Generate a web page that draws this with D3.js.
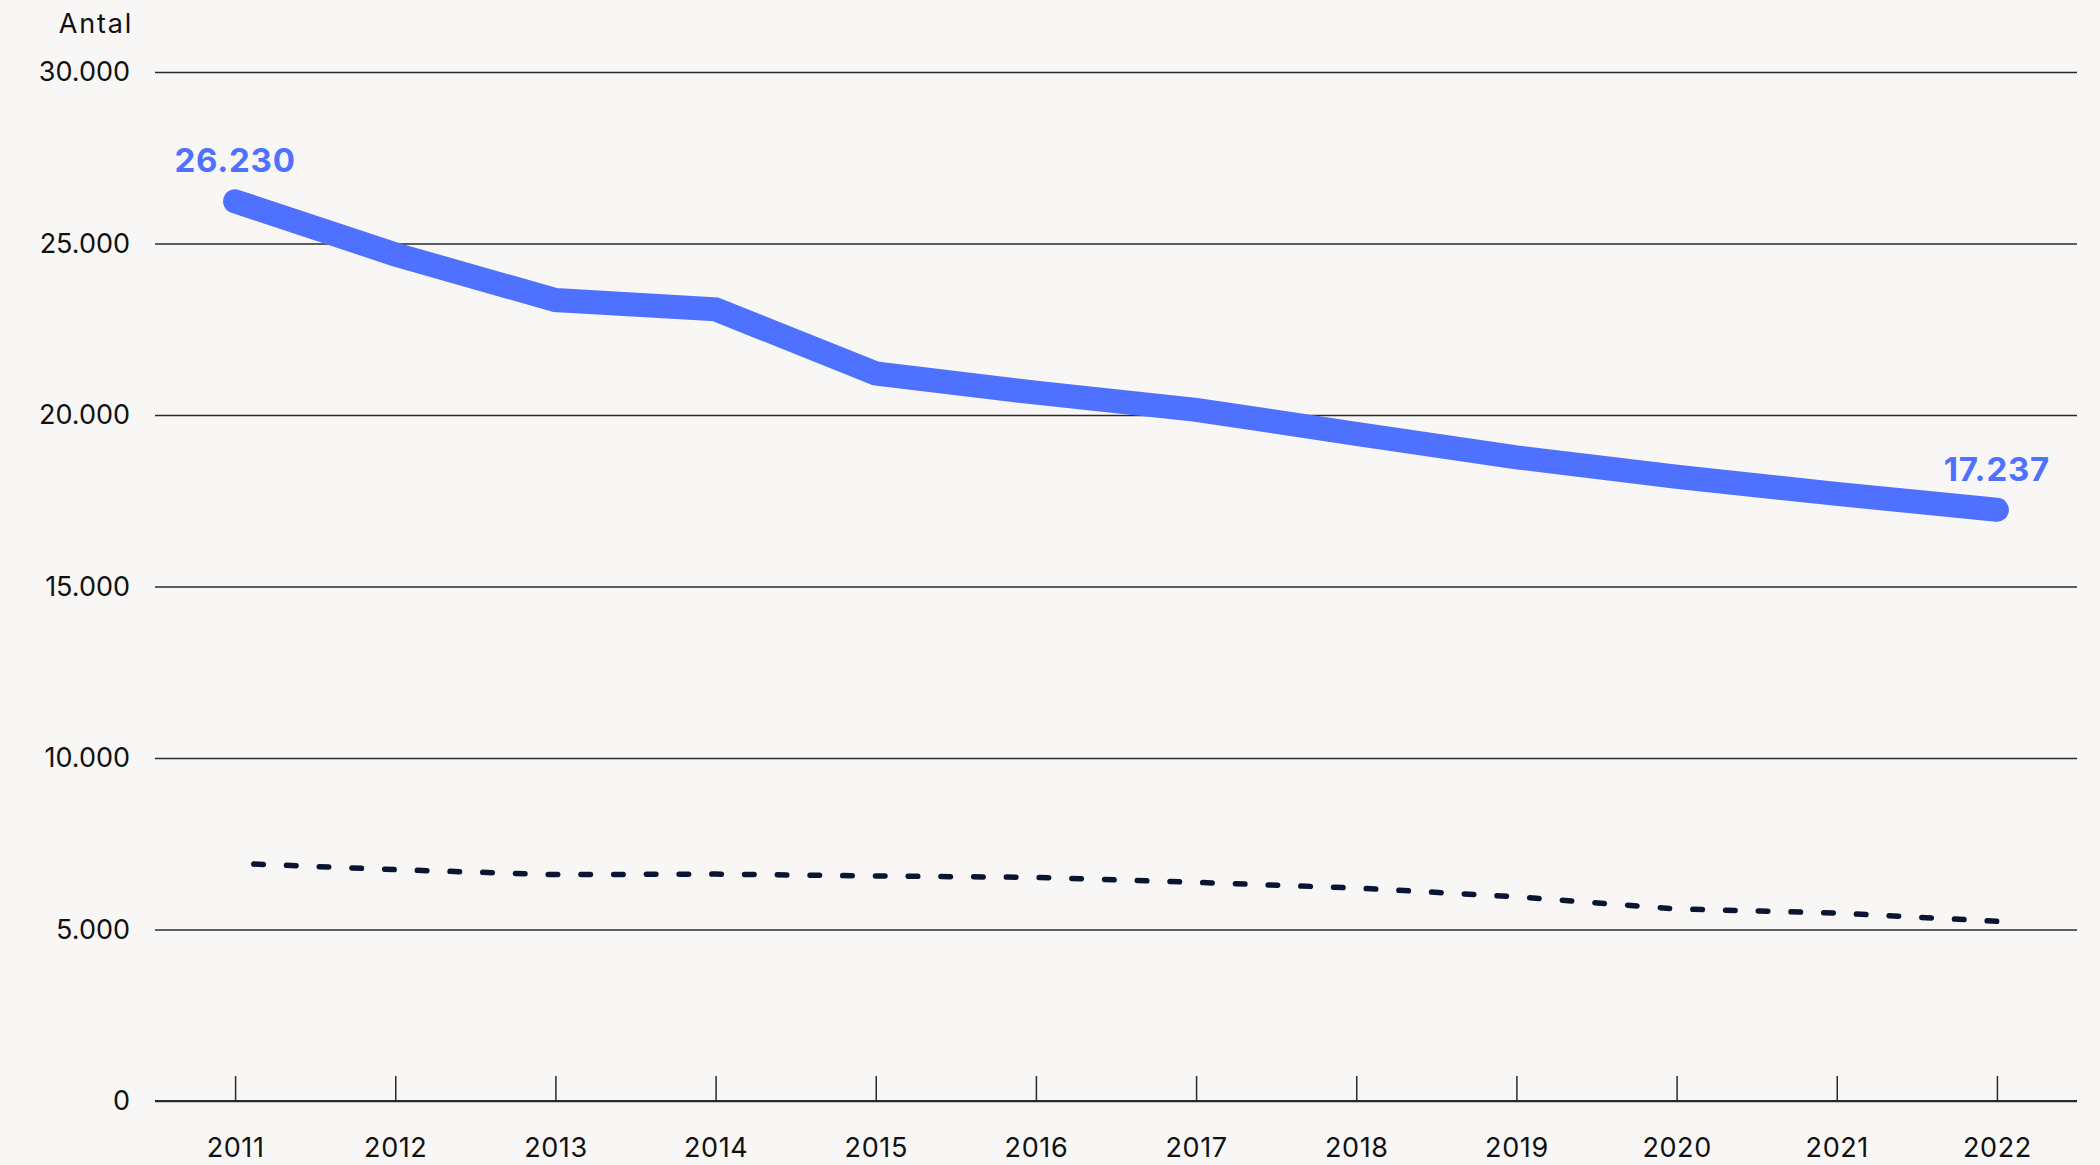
<!DOCTYPE html>
<html>
<head>
<meta charset="utf-8">
<script src="https://cdn.jsdelivr.net/npm/d3@7"></script>
<style>
  html, body { margin: 0; padding: 0; background: #f8f7f5; }
  svg { display: block; }
  text { font-family: Inter, "Noto Sans", sans-serif; }
</style>
</head>
<body>
<svg id="chart" width="2100" height="1165"></svg>
<script>
// Antal per år
const years = ["2011","2012","2013","2014","2015","2016","2017","2018","2019","2020","2021","2022"];
const mainSeries = [26230, 24680, 23350, 23080, 21210, 20650, 20150, 19450, 18765, 18200, 17700, 17237];
const dashedSeries = [6930, 6745, 6600, 6615, 6560, 6520, 6375, 6210, 5955, 5600, 5480, 5240];
const yTicks = [0, 5000, 10000, 15000, 20000, 25000, 30000];
const yTitle = "Antal";

const W = 2100, H = 1165;
const plotLeft = 155, plotRight = 2077, plotTop = 72, plotBottom = 1101;

const locale = d3.formatLocale({ decimal: ",", thousands: ".", grouping: [3], currency: ["", " kr"] });
const fmt = locale.format(",d");

const svg = d3.select("#chart");
svg.append("rect").attr("width", W).attr("height", H).attr("fill", "#f8f7f5");

const x = d3.scalePoint().domain(years).range([plotLeft, plotRight]).padding(0.5);
const y = d3.scaleLinear().domain([0, 30000]).range([plotBottom, plotTop]);

// Horizontal gridlines with labels
const yAxis = svg.append("g")
  .attr("transform", `translate(${plotLeft},0)`)
  .call(d3.axisLeft(y).tickValues(yTicks).tickFormat(fmt).tickSize(-(plotRight - plotLeft)).tickPadding(25));
yAxis.select(".domain").remove();
yAxis.selectAll(".tick line").attr("stroke", "#2a2a2a").attr("stroke-width", 1.5);
yAxis.selectAll(".tick text")
  .attr("fill", "#111")
  .style("font-size", "27px")
  .style("font-family", "Inter, sans-serif");

// Y title
svg.append("text")
  .attr("x", 133).attr("y", 33)
  .attr("text-anchor", "end")
  .attr("fill", "#111")
  .style("font-size", "27px")
  .style("letter-spacing", "1.8px")
  .text(yTitle);

// X axis with inward ticks
const xAxis = svg.append("g")
  .attr("transform", `translate(0,${plotBottom})`)
  .call(d3.axisBottom(x).tickSizeInner(-25).tickSizeOuter(0).tickPadding(37));
xAxis.select(".domain").attr("stroke", "#2a2a2a").attr("stroke-width", 2)
  .attr("d", `M${plotLeft},0H${plotRight}`);
xAxis.selectAll(".tick line").attr("stroke", "#2a2a2a").attr("stroke-width", 1.5);
xAxis.selectAll(".tick text")
  .attr("fill", "#111")
  .attr("dy", "0.71em")
  .style("font-size", "27px")
  .style("letter-spacing", "0.6px")
  .style("font-family", "Inter, sans-serif");

const line = d3.line().x((d, i) => x(years[i])).y(d => y(d));

// Dashed series
svg.append("path")
  .datum(dashedSeries)
  .attr("d", line)
  .attr("fill", "none")
  .attr("stroke", "#0a1533")
  .attr("stroke-width", 5.5)
  .attr("stroke-linecap", "round")
  .attr("stroke-dasharray", "9.5 23.23")
  .attr("stroke-dashoffset", 13.98);

// Main series
svg.append("path")
  .datum(mainSeries)
  .attr("d", line)
  .attr("fill", "none")
  .attr("stroke", "#4e71ff")
  .attr("stroke-width", 24)
  .attr("stroke-linecap", "round")
  .attr("stroke-linejoin", "miter");

// First and last value labels
const labelIdx = [0, mainSeries.length - 1];
svg.selectAll(".val")
  .data(labelIdx)
  .join("text")
  .attr("class", "val")
  .attr("x", i => x(years[i]))
  .attr("y", i => y(mainSeries[i]) - 29)
  .attr("text-anchor", "middle")
  .attr("fill", "#4e71ff")
  .style("font-size", "33px")
  .style("font-weight", "700")
  .style("letter-spacing", "0.8px")
  .text(i => fmt(mainSeries[i]));
</script>
</body>
</html>
